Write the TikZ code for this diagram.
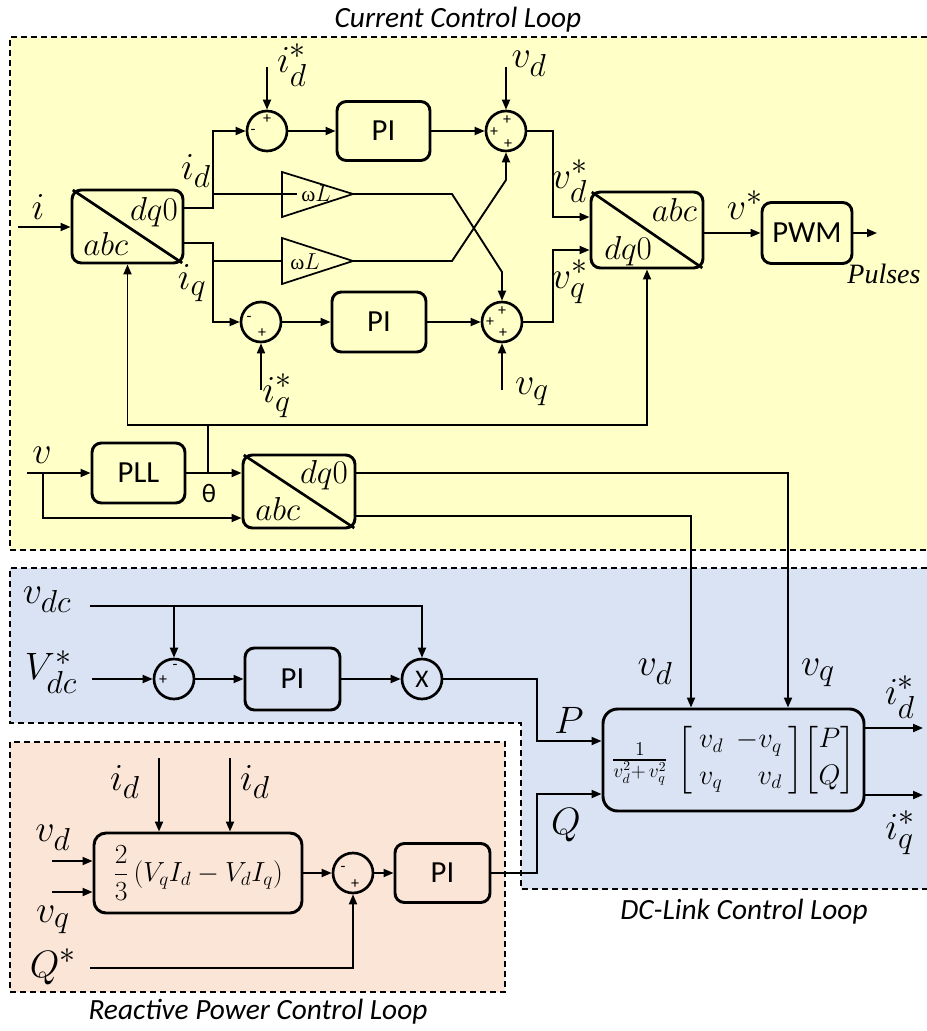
\documentclass[tikz,border=0pt]{standalone}
\usepackage{amsmath}
\usepackage{graphicx}
\usepackage{fontspec}
\setmainfont{Carlito}
\newfontfamily\grk{Liberation Serif}
\usetikzlibrary{arrows.meta,calc}
\definecolor{yelbg}{HTML}{FFFFC8}
\definecolor{blubg}{HTML}{DAE3F3}
\definecolor{orabg}{HTML}{FBE5D6}
\newcommand{\lblsize}{\fontsize{24.88}{27}\selectfont}
\begin{document}
\begin{tikzpicture}[x=0.75pt,y=-0.75pt,
  conn/.style={line width=1.4pt,-{Triangle[length=7.5pt,width=6pt]}},
  wire/.style={line width=1.4pt},
  blk/.style={draw,line width=2.2pt,rounded corners=7pt,inner sep=0pt,font=\fontsize{23}{25}\selectfont},
  sz/.style 2 args={minimum width=#1*0.75pt,minimum height=#2*0.75pt},
  sumc/.style={draw,circle,line width=2pt,minimum size=40*0.75pt,inner sep=0pt},
  sgn/.style={font=\fontsize{12}{12}\selectfont,inner sep=0pt},
  lab/.style={font=\lblsize,inner sep=0pt,scale=1.15},
  boxlab/.style={font=\fontsize{24.88}{27}\selectfont,inner sep=0pt},
  region/.style={dash pattern=on 4.5pt off 3pt,line width=1.2pt},
  gain/.style={draw,line width=1.3pt},
  diag/.style={line width=2pt,shorten <=2pt,shorten >=2pt},
  ttl/.style={font=\fontsize{22}{24}\selectfont\itshape},
  gl/.style={font=\fontsize{16}{16}\selectfont,inner sep=0pt}
  ]
\useasboundingbox (0,0) rectangle (927,1031);
% regions
\fill[yelbg] (10,37) rectangle (927,550);
\draw[region] (927,37) -- (10,37) -- (10,550) -- (927,550);
\fill[blubg] (10,568) -- (927,568) -- (927,889) -- (521,889) -- (521,723) -- (10,723) -- cycle;
\draw[region] (927,568) -- (10,568) -- (10,723) -- (521,723) -- (521,889) -- (927,889);
\fill[orabg] (10,742) rectangle (505,992);
\draw[region] (10,742) rectangle (505,992);
\node[ttl] (ttlA) at (458,20) {Current Control Loop};
\node[ttl] (ttlB) at (744,912) {DC-Link Control Loop};
\node[ttl] (ttlC) at (258,1012) {Reactive Power Control Loop};
% blocks
\node[blk,sz={111}{73}] (T1) at (127.5,226.5) {};
\node[blk,sz={112}{76}] (T2) at (647,230) {};
\node[blk,sz={112}{73}] (T3) at (299,491.5) {};
\node[blk,sz={93}{59}] (PI1) at (383.5,131) {PI};
\node[blk,sz={94}{60}] (PI2) at (379,322) {PI};
\node[blk,sz={93}{60}] (PLL) at (138.5,473) {PLL};
\node[blk,sz={90}{61}] (PWM) at (807,233) {PWM};
\node[blk,sz={95}{62}] (PI3) at (292.5,679) {PI};
\node[blk,sz={95}{59}] (PI4) at (442.5,873) {PI};
\node[blk,rounded corners=11pt,sz={261}{102}] (DC) at (733.5,760) {\scalebox{1.02}{\fontsize{20}{23}\selectfont$\frac{1}{v_d^2+\,v_q^2}\,\left[\begin{array}{l@{\hspace{0.5em}}r} v_d & -v_q\\[4pt] v_q & v_d\end{array}\right]\!\left[\begin{array}{@{}c@{}}P\\[4pt] Q\end{array}\right]$}};
\node[blk,rounded corners=9pt,sz={208}{80}] (QC) at (198,873) {\fontsize{22}{25}\selectfont$\dfrac{2}{3}\left(V_qI_d-V_dI_q\right)$};
% sums
\node[sumc] (S1) at (267,131) {};
\node[sumc] (S3) at (506,131) {};
\node[sumc] (S2) at (261,322) {};
\node[sumc] (S4) at (502,322) {};
\node[sumc] (S5) at (174,679) {};
\node[sumc,font=\fontsize{19}{19}\selectfont] (MX) at (422,679) {X};
\node[sumc] (S6) at (353,873) {};
% signs
\node[sgn] (s1a) at (267,119) {+};
\node[sgn] (s1b) at (253,132) {-};
\node[sgn] (s3a) at (507,120) {+};
\node[sgn] (s3b) at (494,132) {+};
\node[sgn] (s3c) at (508,144) {+};
\node[sgn] (s2a) at (249,319) {-};
\node[sgn] (s2b) at (262,333) {+};
\node[sgn] (s4a) at (502,311) {+};
\node[sgn] (s4b) at (490,322) {+};
\node[sgn] (s4c) at (503,333) {+};
\node[sgn] (s5a) at (175,667) {-};
\node[sgn] (s5b) at (163,680) {+};
\node[sgn] (s6a) at (343,869) {-};
\node[sgn] (s6b) at (355,884) {+};
% diagonals and box labels
\draw[diag] (T1.north west) -- (T1.south east);
\draw[diag] (T2.north west) -- (T2.south east);
\draw[diag] (T3.north west) -- (T3.south east);
\node[boxlab,anchor=base east] (T1a) at (178,220) {$dq0$};
\node[boxlab,anchor=base west] (T1b) at (83,255) {$abc$};
\node[boxlab,anchor=base east] (T2a) at (697,221) {$abc$};
\node[boxlab,anchor=base west] (T2b) at (604,259) {$dq0$};
\node[boxlab,anchor=base east] (T3a) at (348,483) {$dq0$};
\node[boxlab,anchor=base west] (T3b) at (255,520) {$abc$};
% gains
\draw[gain] (282,172) -- (353,194) -- (282,217) -- cycle;
\coordinate (G1i) at (297,194);
\coordinate (G1o) at (353,194);
\node[gl] (G1t) at (316,194) {{\grk ω}$L$};
\draw[gain] (282,238) -- (353,261) -- (282,284) -- cycle;
\coordinate (G2i) at (282,261);
\coordinate (G2o) at (353,261);
\node[gl] (G2t) at (305,262) {{\grk ω}$L$};
% connectors: current loop
\coordinate (iin) at (18,227);
\draw[conn] (iin) -- (iin -| T1.west);
\draw[conn] ($(T1.east)+(0,-18.5)$) -- (213,208) |- (S1.west);
\draw[wire] (213,194) -- (G1i);
\draw[conn] ($(T1.east)+(0,16.5)$) -- (213,243) |- (S2.west);
\draw[wire] (213,261) -- (G2i);
\coordinate (idr) at (267,67);
\draw[conn] (idr) -- (S1.north);
\draw[conn] (S1.east) -- (PI1.west);
\draw[conn] (PI1.east) -- (S3.west);
\coordinate (vdr) at (506,67);
\draw[conn] (vdr) -- (S3.north);
\draw[conn] (S3.east) -- (553,131) |- ($(T2.west)+(0,-13)$);
\draw[conn] (S4.east) -- (553,322) |- ($(T2.west)+(0,20)$);
\draw[conn] (T2.east |- PWM.west) -- (PWM.west);
\coordinate (pul) at (877,233);
\draw[conn] (PWM.east) -- (pul);
\draw[conn] (G1o) -- (452,194) -- (502,272) -- (S4.north);
\draw[conn] (G2o) -- (452,261) -- (506,180) -- (S3.south);
\coordinate (iqr) at (261,390);
\draw[conn] (iqr) -- (S2.south);
\draw[conn] (S2.east) -- (PI2.west);
\draw[conn] (PI2.east) -- (S4.west);
\coordinate (vqr) at (502,390);
\draw[conn] (vqr) -- (S4.south);
\coordinate (vin) at (27,473);
\draw[conn] (vin) -- (PLL.west);
\draw[conn] (43,473) |- ($(T3.west)+(0,26.5)$);
\draw[conn] (PLL.east) -- (T3.west |- PLL.east);
\draw[wire] (208,473) -- (208,425);
\draw[conn] (208,425) -| (T1.south);
\draw[conn] (208,425) -| (T2.south);
\draw[conn] ($(T3.east)+(0,-18.5)$) -| ($(DC.north)+(54.5,0)$);
\draw[conn] ($(T3.east)+(0,24.5)$) -| ($(DC.north)+(-42.5,0)$);
% DC link
\coordinate (idout) at (923,728);
\draw[conn] (DC.east |- idout) -- (idout);
\coordinate (iqout) at (923,795);
\draw[conn] (DC.east |- iqout) -- (iqout);
\draw[conn] (MX.east) -- (537,679) |- ($(DC.west)+(0,-19)$);
\draw[conn] (PI4.east) -- (537,873) |- ($(DC.west)+(0,34)$);
\coordinate (vdc) at (90,606);
\draw[conn] (vdc) -| (MX.north);
\draw[conn] (174,606) -- (S5.north);
\coordinate (vdcr) at (92,679);
\draw[conn] (vdcr) -- (S5.west);
\draw[conn] (S5.east) -- (PI3.west);
\draw[conn] (PI3.east) -- (MX.west);
% reactive
\coordinate (id1) at (159,758);
\draw[conn] (id1) -- (id1 |- QC.north);
\coordinate (id2) at (230,758);
\draw[conn] (id2) -- (id2 |- QC.north);
\coordinate (vdq) at (52,861);
\draw[conn] (vdq) -- (vdq -| QC.west);
\coordinate (vqq) at (52,892);
\draw[conn] (vqq) -- (vqq -| QC.west);
\draw[conn] (QC.east) -- (S6.west);
\draw[conn] (S6.east) -- (PI4.west);
\coordinate (qr) at (90,968);
\draw[conn] (qr) -| (S6.south);
% labels
\node[lab] (Li) at (38,207) {$i$};
\node[lab] (Lid) at (196,171) {$i_d$};
\node[lab] (Liq) at (192,283) {$i_q$};
\node[lab] (Lidr) at (292,65) {$i_d^*$};
\node[lab] (Lvd) at (529,64) {$v_d$};
\node[lab] (Lvds) at (570,181) {$v_d^*$};
\node[lab] (Lvqs) at (570,282) {$v_q^*$};
\node[lab] (Lvs) at (745,205) {$v^*$};
\node[font=\fontsize{21}{21}\selectfont\grk\itshape,inner sep=0pt] (Lpul) at (884,274) {Pulses};
\node[lab] (Liqr) at (277,396) {$i_q^*$};
\node[lab] (Lvq) at (532,392) {$v_q$};
\node[lab] (Lv) at (42,455) {$v$};
\node[font=\fontsize{20}{20}\selectfont,inner sep=0pt] (Lth) at (209,493) {θ};
\node[lab] (Lvdc) at (47,600) {$v_{dc}$};
\node[lab] (Lvdcr) at (51,672) {$V_{dc}^*$};
\node[lab] (LP) at (569,720) {$P$};
\node[lab] (LQ) at (566,825) {$Q$};
\node[lab] (Lvd2) at (655,672) {$v_d$};
\node[lab] (Lvq2) at (818,673) {$v_q$};
\node[lab] (Lido) at (900,697) {$i_d^*$};
\node[lab] (Liqo) at (900,833) {$i_q^*$};
\node[lab] (Lid1) at (125,782) {$i_d$};
\node[lab] (Lid2) at (255,782) {$i_d$};
\node[lab] (Lvd3) at (53,838) {$v_d$};
\node[lab] (Lvq3) at (53,920) {$v_q$};
\node[lab] (LQs) at (53,967) {$Q^*$};
\end{tikzpicture}
\end{document}
